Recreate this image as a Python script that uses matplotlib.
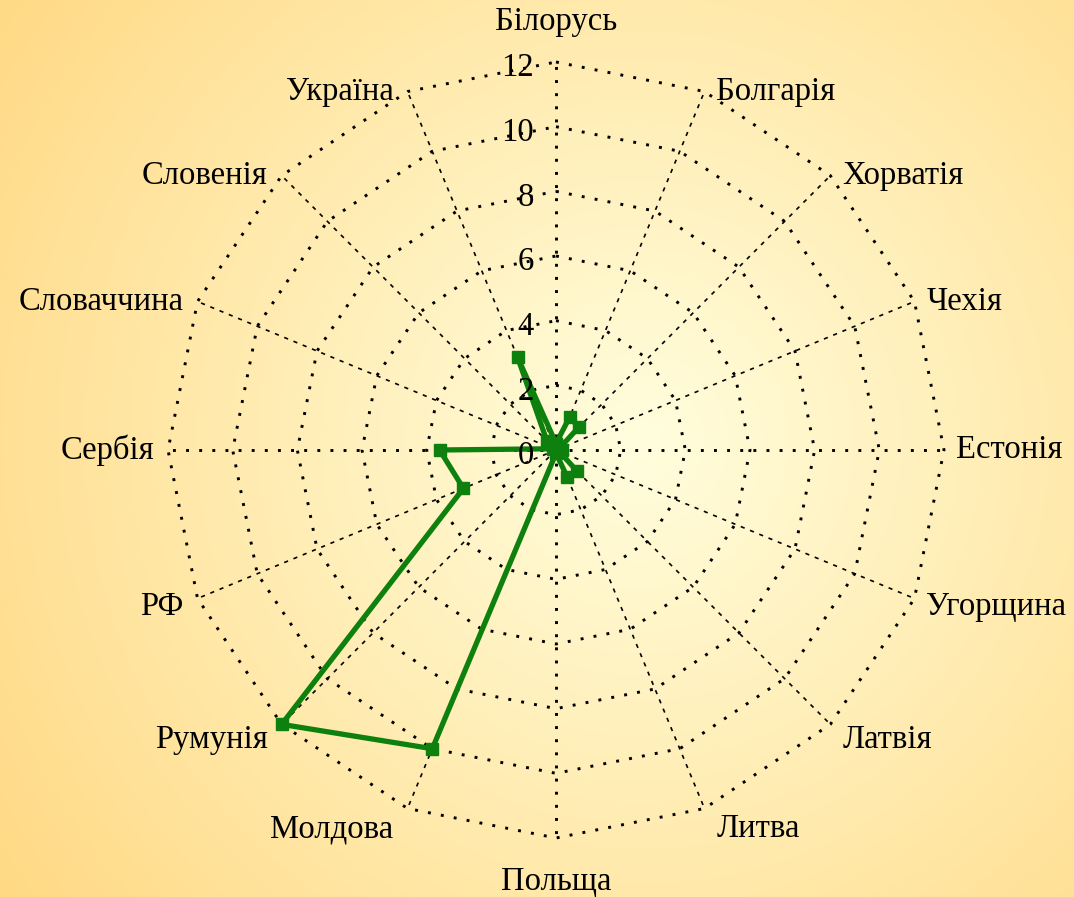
import numpy as np
import matplotlib
matplotlib.use("Agg")
import matplotlib.pyplot as plt

categories = ["Білорусь", "Болгарія", "Хорватія", "Чехія", "Естонія", "Угорщина",
              "Латвія", "Литва", "Польща", "Молдова", "Румунія", "РФ",
              "Сербія", "Словаччина", "Словенія", "Україна"]
values = [0.2, 1.1, 1.0, 0.1, 0.2, 0.1, 0.9, 0.9, 0.1, 10.0, 12.0, 3.1,
          3.6, 0.1, 0.4, 3.1]
ring_levels = [2, 4, 6, 8, 10, 12]
tick_labels = ["0", "2", "4", "6", "8", "10", "12"]
tick_values = [0, 2, 4, 6, 8, 10, 12]

W, H = 1074, 897
fig = plt.figure(figsize=(W / 100, H / 100), dpi=100)

# background radial gradient
bg = fig.add_axes([0, 0, 1, 1])
yy, xx = np.mgrid[0:H, 0:W]
d = np.hypot(xx - 640, yy - 440)
R = np.clip(255 + 0 * d, 0, 255)
G = np.clip(254 - 0.047 * d, 0, 255)
B = np.clip(222 - 0.115 * d, 0, 255)
img = np.dstack([R, G, B]) / 255.0
bg.imshow(img, aspect="auto", extent=[0, W, H, 0])
bg.set_axis_off()

cx, cy, rad = 556, 450, 388
ax = fig.add_axes([(cx - rad) / W, (H - cy - rad) / H, 2 * rad / W, 2 * rad / H],
                  projection="polar")
ax.set_facecolor("none")
ax.set_theta_zero_location("N")
ax.set_theta_direction(-1)
ax.set_ylim(0, 12)
ax.grid(False)
ax.spines["polar"].set_visible(False)
ax.set_xticks([])
ax.set_yticks([])

n = len(categories)
theta = np.arange(n) * 2 * np.pi / n
theta_c = np.concatenate([theta, theta[:1]])

# rings
for r in ring_levels:
    ax.plot(theta_c, [r] * (n + 1), color="black", lw=2.1,
            linestyle=(0, (1, 3.5)), clip_on=False, zorder=2)

# spokes
for i, t in enumerate(theta):
    if i % 4 == 0:
        ax.plot([t, t], [0, 12], color="black", lw=2.1,
                linestyle=(0, (1, 3.5)), clip_on=False, zorder=2)
    else:
        ax.plot([t, t], [0, 12], color="black", lw=1.2,
                linestyle=(0, (2.5, 3.5)), clip_on=False, zorder=2)

# data
vals_c = values + values[:1]
ax.plot(theta_c, vals_c, color="#0E800E", lw=3.8, marker="s", markersize=8.5,
        clip_on=False, zorder=5)

font = "Liberation Serif"
fs = 23.5

# radial tick labels
for v, lab in zip(tick_values, tick_labels):
    ax.annotate(lab, xy=(0, v), xytext=(-22, -6), textcoords="offset pixels",
                ha="right", va="center", fontsize=fs, family=font, zorder=6)

# category labels
for t, lab in zip(theta, categories):
    s, c = np.sin(t), np.cos(t)
    if abs(s) < 1e-6:
        ha = "center"
        dx = 0
        dy = 40 if c > 0 else -44
    else:
        ha = "left" if s > 0 else "right"
        dx = 12 if s > 0 else -14
        dy = -22 * max(0.0, -c)
    ax.annotate(lab, xy=(t, 12), xytext=(dx, dy), textcoords="offset pixels",
                ha=ha, va="center", fontsize=fs, family=font, annotation_clip=False)

fig.savefig("out.png", dpi=100)
